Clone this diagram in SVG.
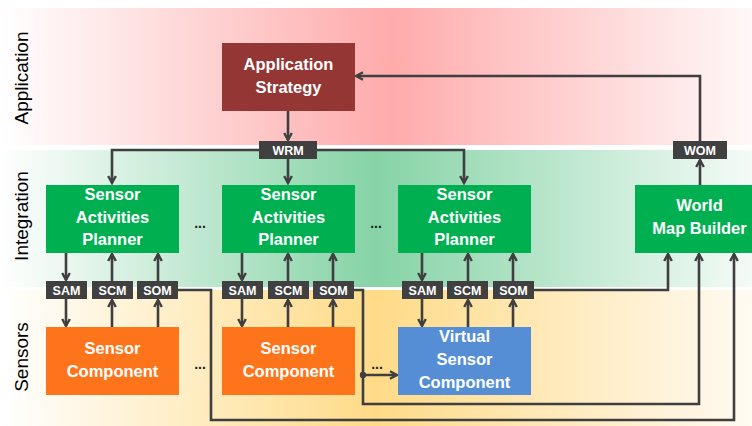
<svg xmlns="http://www.w3.org/2000/svg" width="752" height="426" viewBox="0 0 752 426">
  <defs>
    <linearGradient id="gApp" x1="0" y1="0" x2="1" y2="0">
      <stop offset="0" stop-color="#ffffff"/>
      <stop offset="0.52" stop-color="#ffabab"/>
      <stop offset="1" stop-color="#fff8f8"/>
    </linearGradient>
    <linearGradient id="gInt" x1="0" y1="0" x2="1" y2="0">
      <stop offset="0" stop-color="#ffffff"/>
      <stop offset="0.5" stop-color="#86d3a6"/>
      <stop offset="1" stop-color="#f4fbf7"/>
    </linearGradient>
    <linearGradient id="gSen" x1="0" y1="0" x2="1" y2="0">
      <stop offset="0" stop-color="#ffffff"/>
      <stop offset="0.5" stop-color="#ffdb88"/>
      <stop offset="1" stop-color="#fffaf2"/>
    </linearGradient>
    <marker id="arr" viewBox="0 0 10 10" refX="8.5" refY="5" markerWidth="10" markerHeight="10" markerUnits="userSpaceOnUse" orient="auto">
      <path d="M1.5,1.2 L8.5,5 L1.5,8.8" fill="none" stroke="#3f3f3f" stroke-width="2.4" stroke-linejoin="miter"/>
    </marker>
  </defs>
  <style>
    .band-label { font-family: "Liberation Sans", Arial, sans-serif; font-size: 19px; fill: #000; }
    .box-text { font-family: "Liberation Sans", Arial, sans-serif; font-size: 16.5px; font-weight: bold; fill: #fff; text-anchor: middle; }
    .tag { fill: #404040; }
    .tag-text { font-family: "Liberation Sans", Arial, sans-serif; font-size: 12.5px; font-weight: bold; fill: #fff; text-anchor: middle; }
    .dots { font-family: "Liberation Sans", Arial, sans-serif; font-size: 14px; font-weight: bold; fill: #222; text-anchor: middle; }
    .conn { fill: none; stroke: #3f3f3f; stroke-width: 2.6; }
    .arrow { marker-end: url(#arr); }
  </style>

  <!-- layer bands -->
  <g id="bands">
    <rect x="0" y="8" width="752" height="137" fill="url(#gApp)"/>
    <rect x="0" y="150" width="752" height="137" fill="url(#gInt)"/>
    <rect x="0" y="290" width="752" height="136" fill="url(#gSen)"/>
    <text class="band-label" transform="translate(28,78) rotate(-90)" text-anchor="middle">Application</text>
    <text class="band-label" transform="translate(28,216) rotate(-90)" text-anchor="middle">Integration</text>
    <text class="band-label" transform="translate(28,357) rotate(-90)" text-anchor="middle">Sensors</text>
  </g>

  <!-- connectors -->
  <g id="connectors">
    <path class="conn arrow" d="M288,111 V140"/>
    <path class="conn arrow" d="M288,150 H112 V183"/>
    <path class="conn arrow" d="M288,150 H464 V183"/>
    <path class="conn arrow" d="M288,159 V183"/>
    <path class="conn arrow" d="M700,185 V160"/>
    <path class="conn arrow" d="M700,141 V76 H356"/>

    <!-- group 1 -->
    <path class="conn arrow" d="M66,253 V280"/>
    <path class="conn arrow" d="M66,299 V326"/>
    <path class="conn arrow" d="M112,327 V300"/>
    <path class="conn arrow" d="M112,281 V254"/>
    <path class="conn arrow" d="M158,327 V300"/>
    <path class="conn arrow" d="M158,281 V254"/>
    <!-- group 2 -->
    <path class="conn arrow" d="M242,253 V280"/>
    <path class="conn arrow" d="M242,299 V326"/>
    <path class="conn arrow" d="M288,327 V300"/>
    <path class="conn arrow" d="M288,281 V254"/>
    <path class="conn arrow" d="M333,327 V300"/>
    <path class="conn arrow" d="M333,281 V254"/>
    <!-- group 3 -->
    <path class="conn arrow" d="M422,253 V280"/>
    <path class="conn arrow" d="M422,299 V326"/>
    <path class="conn arrow" d="M468,327 V300"/>
    <path class="conn arrow" d="M468,281 V254"/>
    <path class="conn arrow" d="M513,327 V300"/>
    <path class="conn arrow" d="M513,281 V254"/>

    <!-- observation feeds into the world map builder -->
    <path class="conn arrow" d="M178,290 H211 V420 H734 V254"/>
    <path class="conn arrow" d="M354,290 H363 V404 H699 V254"/>
    <path class="conn arrow" d="M534,290 H668 V254"/>
    <path class="conn arrow" d="M363,375 H397"/>
    <circle cx="363" cy="375" r="3.2" fill="#3f3f3f"/>
  </g>

  <!-- application layer -->
  <g id="app-strategy">
    <rect x="222" y="43" width="133" height="68" fill="#943634"/>
    <text class="box-text" x="288.5" y="70">Application</text>
    <text class="box-text" x="288.5" y="93">Strategy</text>
  </g>
  <g id="wrm">
    <rect class="tag" x="259" y="141" width="58" height="18"/>
    <text class="tag-text" x="288" y="154.5">WRM</text>
  </g>
  <g id="wom">
    <rect class="tag" x="673" y="141" width="54" height="18"/>
    <text class="tag-text" x="700" y="154.5">WOM</text>
  </g>

  <!-- integration layer -->
  <g id="sap-1">
    <rect x="46" y="185" width="133" height="68" fill="#00b050"/>
    <text class="box-text" x="112.5" y="200">Sensor</text>
    <text class="box-text" x="112.5" y="223">Activities</text>
    <text class="box-text" x="112.5" y="245">Planner</text>
  </g>
  <g id="sap-2">
    <rect x="222" y="185" width="133" height="68" fill="#00b050"/>
    <text class="box-text" x="288.5" y="200">Sensor</text>
    <text class="box-text" x="288.5" y="223">Activities</text>
    <text class="box-text" x="288.5" y="245">Planner</text>
  </g>
  <g id="sap-3">
    <rect x="398" y="185" width="133" height="68" fill="#00b050"/>
    <text class="box-text" x="464.5" y="200">Sensor</text>
    <text class="box-text" x="464.5" y="223">Activities</text>
    <text class="box-text" x="464.5" y="245">Planner</text>
  </g>
  <g id="world-map-builder">
    <rect x="635" y="185" width="130" height="68" fill="#00b050"/>
    <text class="box-text" x="699.5" y="211">World</text>
    <text class="box-text" x="699.5" y="234">Map Builder</text>
  </g>
  <g id="dots-int">
    <text class="dots" x="200" y="228">...</text>
    <text class="dots" x="376" y="228">...</text>
  </g>

  <!-- message tags -->
  <g id="tags-1">
    <rect class="tag" x="46" y="281" width="41" height="18"/>
    <text class="tag-text" x="66.5" y="294.5">SAM</text>
    <rect class="tag" x="92" y="281" width="41" height="18"/>
    <text class="tag-text" x="112.5" y="294.5">SCM</text>
    <rect class="tag" x="137" y="281" width="41" height="18"/>
    <text class="tag-text" x="157.5" y="294.5">SOM</text>
  </g>
  <g id="tags-2">
    <rect class="tag" x="222" y="281" width="41" height="18"/>
    <text class="tag-text" x="242.5" y="294.5">SAM</text>
    <rect class="tag" x="268" y="281" width="41" height="18"/>
    <text class="tag-text" x="288.5" y="294.5">SCM</text>
    <rect class="tag" x="313" y="281" width="41" height="18"/>
    <text class="tag-text" x="333.5" y="294.5">SOM</text>
  </g>
  <g id="tags-3">
    <rect class="tag" x="402" y="281" width="41" height="18"/>
    <text class="tag-text" x="422.5" y="294.5">SAM</text>
    <rect class="tag" x="447" y="281" width="41" height="18"/>
    <text class="tag-text" x="467.5" y="294.5">SCM</text>
    <rect class="tag" x="493" y="281" width="41" height="18"/>
    <text class="tag-text" x="513.5" y="294.5">SOM</text>
  </g>

  <!-- sensor layer -->
  <g id="sensor-1">
    <rect x="46" y="327" width="133" height="68" fill="#fe741b"/>
    <text class="box-text" x="112.5" y="354">Sensor</text>
    <text class="box-text" x="112.5" y="377">Component</text>
  </g>
  <g id="sensor-2">
    <rect x="222" y="327" width="133" height="68" fill="#fe741b"/>
    <text class="box-text" x="288.5" y="354">Sensor</text>
    <text class="box-text" x="288.5" y="377">Component</text>
  </g>
  <g id="virtual-sensor">
    <rect x="398" y="327" width="133" height="68" fill="#558ed5"/>
    <text class="box-text" x="464.5" y="342">Virtual</text>
    <text class="box-text" x="464.5" y="365">Sensor</text>
    <text class="box-text" x="464.5" y="388">Component</text>
  </g>
  <g id="dots-sen">
    <text class="dots" x="200" y="369">...</text>
    <text class="dots" x="377" y="369">...</text>
  </g>
</svg>
